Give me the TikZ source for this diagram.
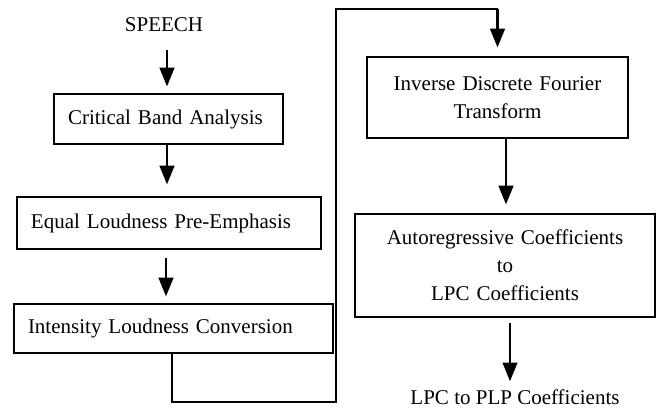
\documentclass[tikz,border=0pt]{standalone}
\usepackage{fontspec}
\setmainfont{Liberation Serif}
\usetikzlibrary{arrows.meta}
\tikzset{
  box/.style={draw, line width=0.9pt, inner ysep=0pt, font=\fontsize{15.75}{21}\selectfont},
  lbox/.style={box, align=left, inner xsep=10.5pt},
  cbox/.style={box, align=center, inner xsep=10.5pt},
  lbl/.style={inner sep=0pt, font=\fontsize{15.75}{21}\selectfont},
  arr/.style={line width=1.6pt, -{Triangle[width=11pt,length=14pt]}},
  wire/.style={line width=0.9pt}
}
\begin{document}
\begin{tikzpicture}[x=0.75pt,y=-0.75pt]
\useasboundingbox (0,0) rectangle (657,410);
\node[lbl] (speech) at (164,25) {SPEECH};
\node[lbox, text width=150.75pt, minimum height=37.5pt] (cba) at (168.5,119) {Critical Band Analysis};
\node[lbox, text width=207pt, minimum height=39pt] (elp) at (169,223) {Equal Loudness Pre-Emphasis};
\node[lbox, text width=218.25pt, minimum height=36.75pt] (ilc) at (173.5,328.5) {Intensity Loudness Conversion};
\node[cbox, text width=174.75pt, minimum height=60.75pt] (idft) at (497.5,97.5) {Inverse Discrete Fourier\\Transform};
\node[cbox, text width=204pt, minimum height=77.25pt] (auto) at (505,265.5) {Autoregressive Coefficients\\to\\LPC Coefficients};
\node[lbl] (lpc) at (515,397) {LPC to PLP Coefficients};
\coordinate (corner) at (497.5,9);
\draw[arr, shorten <=13.5pt, shorten >=5.25pt] (speech.south -| 167,0) -- (cba.north -| 167,0);
\draw[arr, shorten >=9pt] (cba.south -| 167,0) -- (elp.north -| 167,0);
\draw[arr, shorten <=6pt, shorten >=5.25pt] (elp.south -| 166,0) -- (ilc.north -| 166,0);
\draw[wire] (ilc.south -| 172,0) -- (172,402) -- (336,402) -- (336,9) -- (corner);
\draw[arr, shorten >=6.75pt] (corner) -- (idft.north);
\draw[arr, shorten >=6.75pt] (idft.south -| 506,0) -- (auto.north -| 506,0);
\draw[arr, shorten <=3.75pt, shorten >=6pt] (auto.south -| 510,0) -- (lpc.north -| 510,0);
\end{tikzpicture}
\end{document}
